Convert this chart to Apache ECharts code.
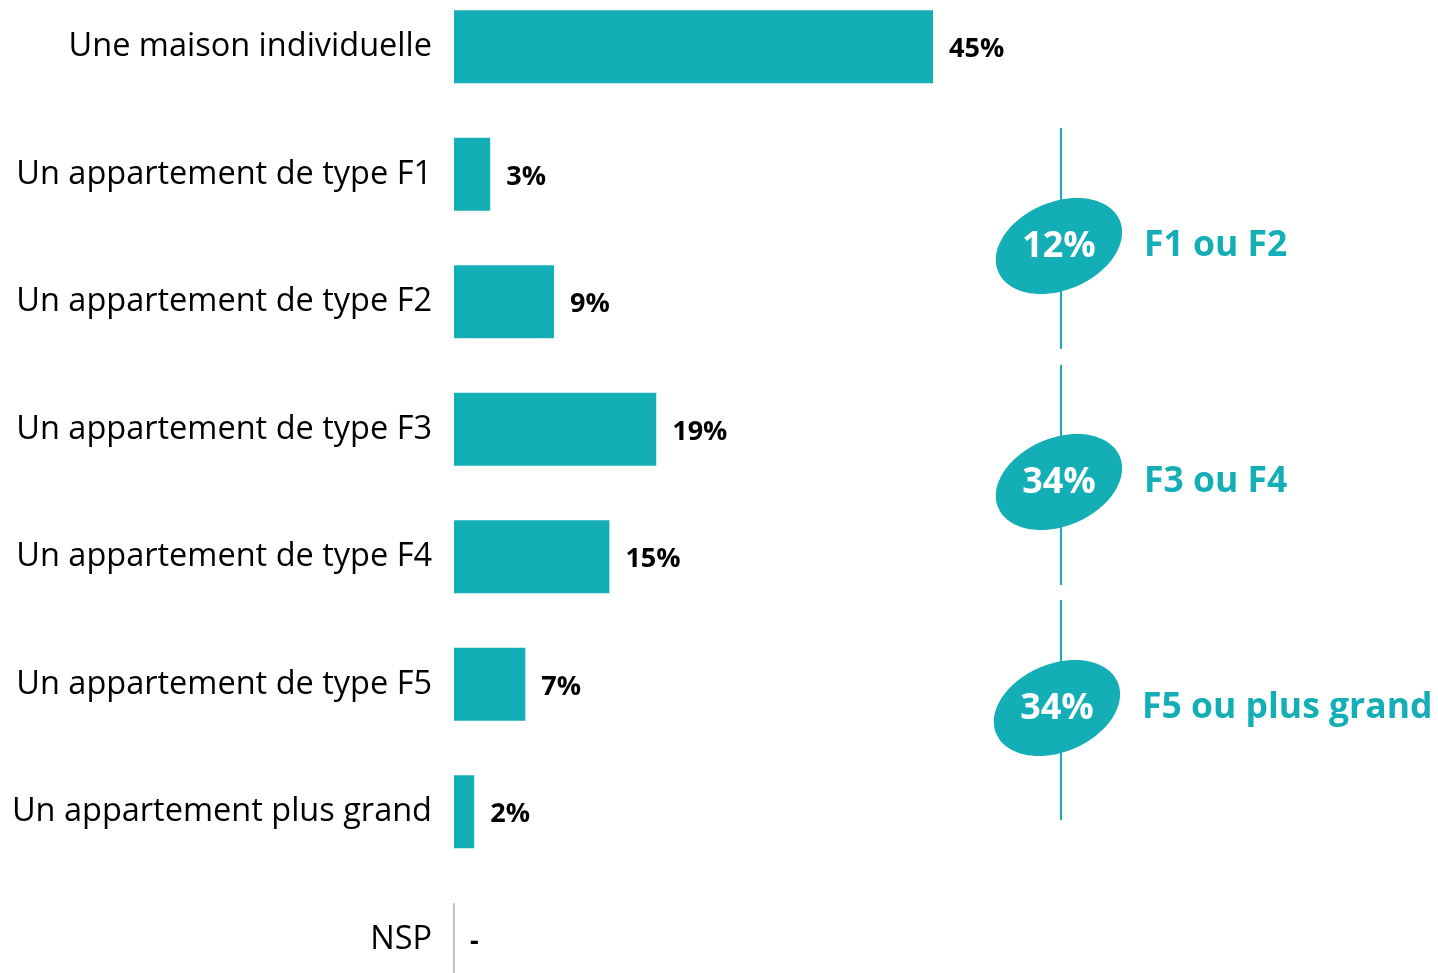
<!DOCTYPE html>
<html>
<head>
<meta charset="utf-8">
<script src="https://cdn.jsdelivr.net/npm/echarts@6/dist/echarts.min.js"></script>
<style>
  html, body { margin: 0; padding: 0; background: #fff; }
  #main { width: 1438px; height: 973px; }
</style>
</head>
<body>
<div id="main"></div>
<script>
var categories = [
    'Une maison individuelle',
    'Un appartement de type F1',
    'Un appartement de type F2',
    'Un appartement de type F3',
    'Un appartement de type F4',
    'Un appartement de type F5',
    'Un appartement plus grand',
    'NSP'
];
var values = [45, 3.4, 9.4, 19, 14.6, 6.7, 1.9, 0];

var groupLabels = ['F1 ou F2', 'F3 ou F4', 'F5 ou plus grand'];
var groupValues = [12, 34, 34];

var teal = '#14AEB6';
var font = '"Open Sans", sans-serif';

var myChart = echarts.init(document.getElementById('main'));

// annotations a droite (lignes + ellipses)
var segs = [[128, 349], [365, 585], [600, 820]];
var centers = [[1059, 246], [1059, 482], [1057, 708]];
var graphics = [];
for (var i = 0; i < groupValues.length; i++) {
    graphics.push({
        type: 'line',
        shape: { x1: 1061, y1: segs[i][0], x2: 1061, y2: segs[i][1] },
        style: { stroke: teal, lineWidth: 2 },
        z: 10
    });
    graphics.push({
        type: 'group',
        x: centers[i][0],
        y: centers[i][1],
        z: 11,
        children: [
            {
                type: 'ellipse',
                shape: { cx: 0, cy: 0, rx: 66, ry: 44 },
                rotation: 23 * Math.PI / 180,
                style: { fill: teal },
                z: 11
            },
            {
                type: 'text',
                x: 0,
                y: 1,
                style: {
                    text: groupValues[i] + '%',
                    fill: '#fff',
                    font: 'bold 36px ' + font,
                    align: 'center',
                    verticalAlign: 'middle'
                },
                z: 12
            },
            {
                type: 'text',
                x: 85,
                y: 0,
                style: {
                    text: groupLabels[i],
                    fill: teal,
                    font: 'bold 35.5px ' + font,
                    align: 'left',
                    verticalAlign: 'middle'
                },
                z: 12
            }
        ]
    });
}

var option = {
    animation: false,
    grid: {
        left: 454,
        right: 26,
        top: -17,
        bottom: -30,
        outerBoundsMode: 'none',
        containLabel: false
    },
    xAxis: {
        type: 'value',
        min: 0,
        max: 90,
        show: false
    },
    yAxis: {
        type: 'category',
        inverse: true,
        data: categories,
        axisLine: { show: false },
        axisTick: { show: false },
        splitLine: { show: false },
        axisLabel: {
            margin: 22,
            color: '#000',
            fontSize: 32.5,
            fontFamily: font
        }
    },
    series: [
        {
            type: 'bar',
            data: values,
            barWidth: 73,
            itemStyle: { color: teal },
            label: {
                show: true,
                position: 'right',
                distance: 16,
                offset: [0, 3],
                color: '#000',
                fontSize: 27,
                fontWeight: 'bold',
                fontFamily: font,
                formatter: function (p) {
                    return p.value ? Math.round(p.value) + '%' : '-';
                }
            }
        }
    ],
    graphic: graphics
};

myChart.setOption(option);

// petit trait gris pour NSP
var x0 = myChart.convertToPixel({ xAxisIndex: 0 }, 0);
var yc = myChart.convertToPixel({ yAxisIndex: 0 }, 'NSP');
graphics.push({
    type: 'line',
    shape: { x1: x0, y1: yc - 36, x2: x0, y2: yc + 36 },
    style: { stroke: '#BFBFBF', lineWidth: 2 },
    z: 5
});
myChart.setOption({ graphic: graphics });
</script>
</body>
</html>
